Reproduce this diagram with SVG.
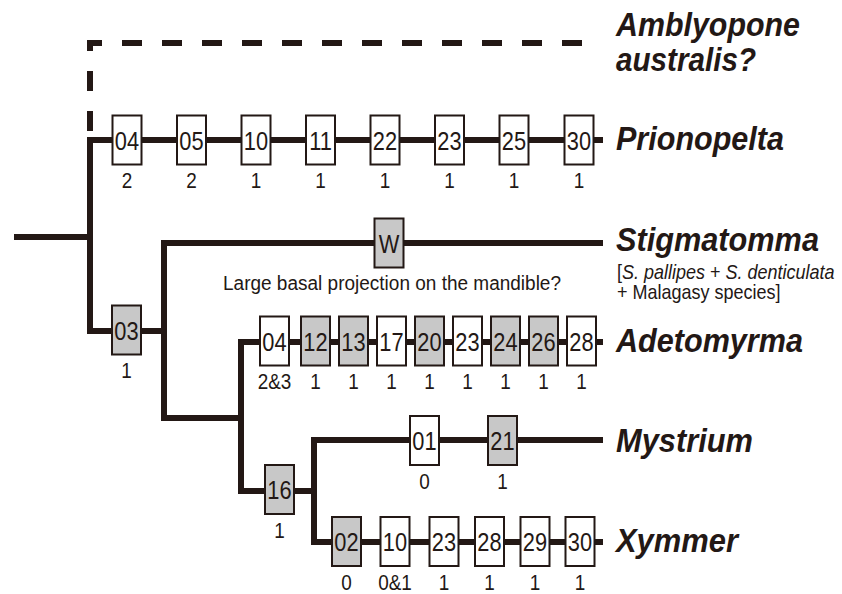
<svg xmlns="http://www.w3.org/2000/svg" width="842" height="594" viewBox="0 0 842 594">
<style>
.ln{fill:none;stroke:#231815;stroke-width:6;stroke-linejoin:miter;stroke-linecap:butt}
.ds{fill:none;stroke:#231815;stroke-width:6;stroke-dasharray:20 20}
.b{fill:#ffffff;stroke:#231815;stroke-width:2}
.g{fill:#c8c8c8;stroke:#231815;stroke-width:2}
.n{font-family:"Liberation Sans",Arial,sans-serif;font-size:26px;fill:#231815;text-anchor:middle}
.s{font-family:"Liberation Sans",Arial,sans-serif;font-size:22px;fill:#231815;text-anchor:middle}
.t{font-family:"Liberation Sans",Arial,sans-serif;font-size:33px;font-weight:bold;font-style:italic;fill:#231815}
.c{font-family:"Liberation Sans",Arial,sans-serif;font-size:20px;fill:#231815}
</style>
<rect width="842" height="594" fill="#ffffff"/>
<g id="connectors">
<path class="ds" d="M90,131 V43 H583"/>
<path class="ln" d="M14,237 H90"/>
<path class="ln" d="M603,140 H90 V331 H164"/>
<path class="ln" d="M603,243 H164 V418 H241"/>
<path class="ln" d="M603,342 H241 V491 H314"/>
<path class="ln" d="M603,440 H314 V542 H603"/>
</g>
<g id="prionopelta-characters">
<g id="p04" transform="translate(127,140)"><rect class="b" x="-14.5" y="-24.5" width="29" height="49"/><text class="n" transform="scale(.84,1)" y="9.5">04</text><text class="s" transform="scale(.86,1)" y="48.5">2</text></g>
<g id="p05" transform="translate(191.5,140)"><rect class="b" x="-14.5" y="-24.5" width="29" height="49"/><text class="n" transform="scale(.84,1)" y="9.5">05</text><text class="s" transform="scale(.86,1)" y="48.5">2</text></g>
<g id="p10" transform="translate(256,140)"><rect class="b" x="-14.5" y="-24.5" width="29" height="49"/><text class="n" transform="scale(.84,1)" y="9.5">10</text><text class="s" transform="scale(.86,1)" y="48.5">1</text></g>
<g id="p11" transform="translate(320.5,140)"><rect class="b" x="-14.5" y="-24.5" width="29" height="49"/><text class="n" transform="scale(.84,1)" y="9.5">11</text><text class="s" transform="scale(.86,1)" y="48.5">1</text></g>
<g id="p22" transform="translate(385,140)"><rect class="b" x="-14.5" y="-24.5" width="29" height="49"/><text class="n" transform="scale(.84,1)" y="9.5">22</text><text class="s" transform="scale(.86,1)" y="48.5">1</text></g>
<g id="p23" transform="translate(449.5,140)"><rect class="b" x="-14.5" y="-24.5" width="29" height="49"/><text class="n" transform="scale(.84,1)" y="9.5">23</text><text class="s" transform="scale(.86,1)" y="48.5">1</text></g>
<g id="p25" transform="translate(514,140)"><rect class="b" x="-14.5" y="-24.5" width="29" height="49"/><text class="n" transform="scale(.84,1)" y="9.5">25</text><text class="s" transform="scale(.86,1)" y="48.5">1</text></g>
<g id="p30" transform="translate(579,140)"><rect class="b" x="-14.5" y="-24.5" width="29" height="49"/><text class="n" transform="scale(.84,1)" y="9.5">30</text><text class="s" transform="scale(.86,1)" y="48.5">1</text></g>
</g>
<g id="w" transform="translate(389,243)"><rect class="g" x="-14.5" y="-24.5" width="29" height="49"/><text class="n" transform="scale(.84,1)" y="9.5">W</text></g>
<g id="w-note"><text class="c" x="223" y="290" font-size="21" textLength="338" lengthAdjust="spacingAndGlyphs">Large basal projection on the mandible?</text></g>
<g id="n03" transform="translate(126.5,330)"><rect class="g" x="-14.5" y="-24.5" width="29" height="49"/><text class="n" transform="scale(.84,1)" y="9.5">03</text><text class="s" transform="scale(.86,1)" y="48.5">1</text></g>
<g id="adetomyrma-characters">
<g id="a04" transform="translate(274.5,341)"><rect class="b" x="-14.5" y="-24.5" width="29" height="49"/><text class="n" transform="scale(.84,1)" y="9.5">04</text><text class="s" transform="scale(.86,1)" y="48.5">2&amp;3</text></g>
<g id="a12" transform="translate(315.5,341)"><rect class="g" x="-14.5" y="-24.5" width="29" height="49"/><text class="n" transform="scale(.84,1)" y="9.5">12</text><text class="s" transform="scale(.86,1)" y="48.5">1</text></g>
<g id="a13" transform="translate(353.5,341)"><rect class="g" x="-14.5" y="-24.5" width="29" height="49"/><text class="n" transform="scale(.84,1)" y="9.5">13</text><text class="s" transform="scale(.86,1)" y="48.5">1</text></g>
<g id="a17" transform="translate(391.5,341)"><rect class="b" x="-14.5" y="-24.5" width="29" height="49"/><text class="n" transform="scale(.84,1)" y="9.5">17</text><text class="s" transform="scale(.86,1)" y="48.5">1</text></g>
<g id="a20" transform="translate(429.5,341)"><rect class="g" x="-14.5" y="-24.5" width="29" height="49"/><text class="n" transform="scale(.84,1)" y="9.5">20</text><text class="s" transform="scale(.86,1)" y="48.5">1</text></g>
<g id="a23" transform="translate(467.5,341)"><rect class="b" x="-14.5" y="-24.5" width="29" height="49"/><text class="n" transform="scale(.84,1)" y="9.5">23</text><text class="s" transform="scale(.86,1)" y="48.5">1</text></g>
<g id="a24" transform="translate(505.5,341)"><rect class="g" x="-14.5" y="-24.5" width="29" height="49"/><text class="n" transform="scale(.84,1)" y="9.5">24</text><text class="s" transform="scale(.86,1)" y="48.5">1</text></g>
<g id="a26" transform="translate(543.5,341)"><rect class="g" x="-14.5" y="-24.5" width="29" height="49"/><text class="n" transform="scale(.84,1)" y="9.5">26</text><text class="s" transform="scale(.86,1)" y="48.5">1</text></g>
<g id="a28" transform="translate(581.5,341)"><rect class="b" x="-14.5" y="-24.5" width="29" height="49"/><text class="n" transform="scale(.84,1)" y="9.5">28</text><text class="s" transform="scale(.86,1)" y="48.5">1</text></g>
</g>
<g id="n16" transform="translate(279.5,489.5)"><rect class="g" x="-14.5" y="-24.5" width="29" height="49"/><text class="n" transform="scale(.84,1)" y="9.5">16</text><text class="s" transform="scale(.86,1)" y="48.5">1</text></g>
<g id="mystrium-characters">
<g id="m01" transform="translate(424.5,440.5)"><rect class="b" x="-14.5" y="-24.5" width="29" height="49"/><text class="n" transform="scale(.84,1)" y="9.5">01</text><text class="s" transform="scale(.86,1)" y="48.5">0</text></g>
<g id="m21" transform="translate(502.5,440.5)"><rect class="g" x="-14.5" y="-24.5" width="29" height="49"/><text class="n" transform="scale(.84,1)" y="9.5">21</text><text class="s" transform="scale(.86,1)" y="48.5">1</text></g>
</g>
<g id="xymmer-characters">
<g id="x02" transform="translate(346.5,541.5)"><rect class="g" x="-14.5" y="-24.5" width="29" height="49"/><text class="n" transform="scale(.84,1)" y="9.5">02</text><text class="s" transform="scale(.86,1)" y="48.5">0</text></g>
<g id="x10" transform="translate(395,541.5)"><rect class="b" x="-14.5" y="-24.5" width="29" height="49"/><text class="n" transform="scale(.84,1)" y="9.5">10</text><text class="s" transform="scale(.86,1)" y="48.5">0&amp;1</text></g>
<g id="x23" transform="translate(444,541.5)"><rect class="b" x="-14.5" y="-24.5" width="29" height="49"/><text class="n" transform="scale(.84,1)" y="9.5">23</text><text class="s" transform="scale(.86,1)" y="48.5">1</text></g>
<g id="x28" transform="translate(489.5,541.5)"><rect class="b" x="-14.5" y="-24.5" width="29" height="49"/><text class="n" transform="scale(.84,1)" y="9.5">28</text><text class="s" transform="scale(.86,1)" y="48.5">1</text></g>
<g id="x29" transform="translate(535,541.5)"><rect class="b" x="-14.5" y="-24.5" width="29" height="49"/><text class="n" transform="scale(.84,1)" y="9.5">29</text><text class="s" transform="scale(.86,1)" y="48.5">1</text></g>
<g id="x30" transform="translate(580,541.5)"><rect class="b" x="-14.5" y="-24.5" width="29" height="49"/><text class="n" transform="scale(.84,1)" y="9.5">30</text><text class="s" transform="scale(.86,1)" y="48.5">1</text></g>
</g>
<g id="taxon-amblyopone"><text class="t" x="616" y="36" textLength="184" lengthAdjust="spacingAndGlyphs">Amblyopone</text><text class="t" x="616" y="71" textLength="140" lengthAdjust="spacingAndGlyphs">australis?</text></g>
<g id="taxon-prionopelta"><text class="t" x="616" y="150" textLength="168" lengthAdjust="spacingAndGlyphs">Prionopelta</text></g>
<g id="taxon-stigmatomma"><text class="t" x="616" y="251" textLength="203" lengthAdjust="spacingAndGlyphs">Stigmatomma</text>
<text class="c" transform="translate(617,279) scale(.9,1)">[<tspan font-style="italic">S. pallipes</tspan> + <tspan font-style="italic">S. denticulata</tspan></text>
<text class="c" transform="translate(617,299) scale(.9,1)">+ Malagasy species]</text></g>
<g id="taxon-adetomyrma"><text class="t" x="616" y="352" textLength="187" lengthAdjust="spacingAndGlyphs">Adetomyrma</text></g>
<g id="taxon-mystrium"><text class="t" x="616" y="452" textLength="137" lengthAdjust="spacingAndGlyphs">Mystrium</text></g>
<g id="taxon-xymmer"><text class="t" x="616" y="552" textLength="122" lengthAdjust="spacingAndGlyphs">Xymmer</text></g>
</svg>
